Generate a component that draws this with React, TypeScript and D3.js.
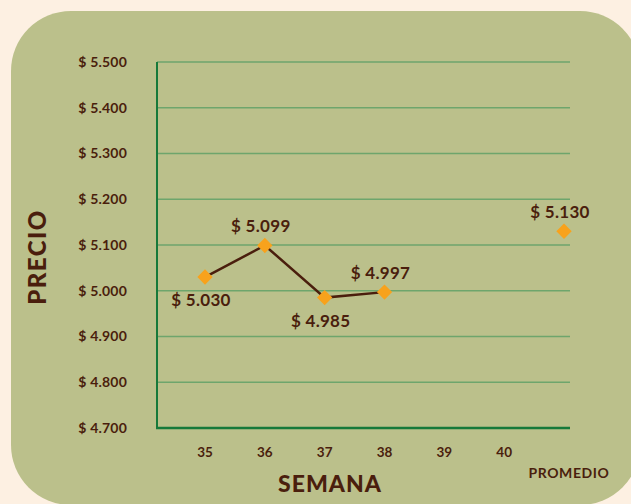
import React, { useEffect, useRef } from 'react';
import * as d3 from 'd3';

const categories = ['35', '36', '37', '38', '39', '40', 'PROMEDIO'];
const weeks = ['35', '36', '37', '38'];
const prices = [5030, 5099, 4985, 4997];
const average = 5130;
const yTicks = [4700, 4800, 4900, 5000, 5100, 5200, 5300, 5400, 5500];
const labelBelow = [true, false, true, false];

const W = 631;
const H = 504;
const ink = '#4a1e0d';
const font = 'Lato, "Noto Sans", sans-serif';

const money = (v: number) => '$ ' + (v / 1000).toFixed(3);

const App: React.FC = () => {
  const ref = useRef<SVGSVGElement>(null);

  useEffect(() => {
    const svg = d3.select(ref.current);
    svg.selectAll('*').remove();

    svg.append('rect').attr('width', W).attr('height', H).attr('fill', '#fdf0e2');
    svg.append('rect')
      .attr('x', 11).attr('y', 11)
      .attr('width', 629).attr('height', 494)
      .attr('rx', 60)
      .attr('fill', '#bbc08b');

    const x = d3.scalePoint().domain(categories).range([205, 564]);
    const y = d3.scaleLinear().domain([4700, 5500]).range([428, 62]);
    const left = 157;
    const right = 570;

    // gridlines
    svg.selectAll('.grid')
      .data(yTicks.slice(1))
      .enter()
      .append('line')
      .attr('x1', left).attr('x2', right)
      .attr('y1', (d) => y(d)).attr('y2', (d) => y(d))
      .attr('stroke', '#6ea56c')
      .attr('stroke-width', 1.5);

    // axis lines
    svg.append('line')
      .attr('x1', left).attr('x2', left)
      .attr('y1', y(5500)).attr('y2', y(4700))
      .attr('stroke', '#16793a').attr('stroke-width', 2);
    svg.append('line')
      .attr('x1', left - 1).attr('x2', right)
      .attr('y1', y(4700)).attr('y2', y(4700))
      .attr('stroke', '#16793a').attr('stroke-width', 2.5);

    // y tick labels
    svg.selectAll('.ylab')
      .data(yTicks)
      .enter()
      .append('text')
      .attr('x', 127)
      .attr('y', (d) => y(d))
      .attr('dy', '0.35em')
      .attr('text-anchor', 'end')
      .attr('font-family', font)
      .attr('font-weight', 700)
      .attr('font-size', 14)
      .attr('letter-spacing', 0.2)
      .attr('fill', ink)
      .text((d) => money(d));

    // x tick labels
    svg.selectAll('.xlab')
      .data(categories.slice(0, 6))
      .enter()
      .append('text')
      .attr('x', (d) => x(d)!)
      .attr('y', 457)
      .attr('text-anchor', 'middle')
      .attr('font-family', font)
      .attr('font-weight', 700)
      .attr('font-size', 13.5)
      .attr('fill', ink)
      .text((d) => d);

    svg.append('text')
      .attr('x', x('PROMEDIO')! + 5)
      .attr('y', 478)
      .attr('text-anchor', 'middle')
      .attr('font-family', font)
      .attr('font-weight', 700)
      .attr('font-size', 14)
      .attr('letter-spacing', 0.6)
      .attr('fill', ink)
      .text('PROMEDIO');

    // axis titles
    svg.append('text')
      .attr('x', 330)
      .attr('y', 492)
      .attr('text-anchor', 'middle')
      .attr('font-family', font)
      .attr('font-weight', 900)
      .attr('font-size', 23)
      .attr('letter-spacing', 1)
      .attr('fill', ink)
      .text('SEMANA');

    svg.append('text')
      .attr('transform', 'translate(46,257) rotate(-90)')
      .attr('text-anchor', 'middle')
      .attr('font-family', font)
      .attr('font-weight', 900)
      .attr('font-size', 24)
      .attr('letter-spacing', 1.5)
      .attr('fill', ink)
      .text('PRECIO');

    // line through weeks
    const line = d3.line<number>()
      .x((_, i) => x(weeks[i])!)
      .y((d) => y(d));
    svg.append('path')
      .datum(prices)
      .attr('d', line)
      .attr('fill', 'none')
      .attr('stroke', ink)
      .attr('stroke-width', 2.5);

    const diamond = d3.symbol().type(d3.symbolDiamond2).size(150);

    const pts = prices.map((v, i) => ({ cat: weeks[i], v, below: labelBelow[i] }));
    pts.push({ cat: 'PROMEDIO', v: average, below: false });

    svg.selectAll('.pt')
      .data(pts)
      .enter()
      .append('path')
      .attr('d', diamond)
      .attr('transform', (d) => `translate(${x(d.cat)},${y(d.v)})`)
      .attr('fill', '#f8a21c');

    svg.selectAll('.vlab')
      .data(pts)
      .enter()
      .append('text')
      .attr('x', (d) => x(d.cat)! - 4)
      .attr('y', (d) => y(d.v) + (d.below ? 29 : -13))
      .attr('text-anchor', 'middle')
      .attr('font-family', font)
      .attr('font-weight', 700)
      .attr('font-size', 17)
      .attr('letter-spacing', 0.3)
      .attr('fill', ink)
      .text((d) => money(d.v));
  }, []);

  return (
    <svg ref={ref} width={W} height={H} style={{ position: 'absolute', left: 0, top: 0 }} />
  );
};

export default App;
